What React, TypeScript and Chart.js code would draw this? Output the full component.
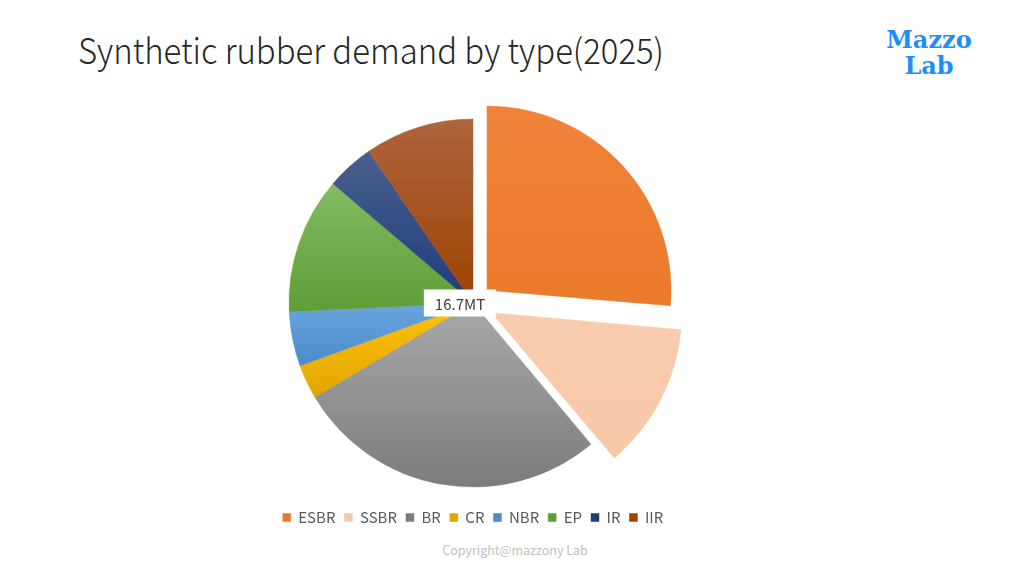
import React, { useEffect, useRef } from "react";
import { Chart, registerables } from "chart.js";

Chart.register(...registerables);

const categories = ["ESBR", "SSBR", "BR", "CR", "NBR", "EP", "IR", "IIR"];
const demandMT = [4.4, 2.1, 4.6, 0.5, 0.8, 2.0, 0.7, 1.6];
// Chart.js 4 draws an arc's offset at a quarter of its value
const explodeOffsets = [76, 84, 0, 0, 0, 0, 0, 0];
const topColors = ["#F0833A", "#F8CCAF", "#A9A9A9", "#FFC20A", "#6AA6DE", "#82BC62", "#4A5F8E", "#AE643E"];
const bottomColors = ["#EB7A2C", "#F7C8A8", "#7C7C7C", "#E2A500", "#4A8BCA", "#5E9E36", "#1F3B7A", "#9E4200"];
const centerLabel = "16.7MT";
const titleText = "Synthetic rubber demand by type(2025)";

const RADIUS = 184;

function sliceFill(ctx: any) {
  const chart = ctx.chart;
  const area = chart.chartArea;
  const i = ctx.dataIndex;
  if (!area || i === undefined) return bottomColors[i ?? 0];
  const total = demandMT.reduce((a, b) => a + b, 0);
  let before = 0;
  for (let k = 0; k < i; k++) before += demandMT[k];
  const a0 = (before / total) * Math.PI * 2;
  const a1 = ((before + demandMT[i]) / total) * Math.PI * 2;
  const cy = (area.top + area.bottom) / 2;
  const ys = [cy, cy - RADIUS * Math.cos(a0), cy - RADIUS * Math.cos(a1)];
  if (a0 <= 0.0001) ys.push(cy - RADIUS);
  if (a0 <= Math.PI && a1 >= Math.PI) ys.push(cy + RADIUS);
  const y0 = Math.min(...ys);
  const y1 = Math.max(...ys);
  const g = chart.ctx.createLinearGradient(0, y0, 0, Math.max(y1, y0 + 1));
  g.addColorStop(0, topColors[i]);
  g.addColorStop(1, bottomColors[i]);
  return g;
}

const centerLabelPlugin = {
  id: "centerLabel",
  afterDatasetsDraw(chart: any) {
    const arc = chart.getDatasetMeta(0).data[2];
    if (!arc) return;
    const c = chart.ctx;
    const cx = arc.x - 13;
    const cy = arc.y;
    c.save();
    c.font = "15px 'Noto Sans CJK JP', 'Noto Sans', sans-serif";
    const w = c.measureText(centerLabel).width + 22;
    const h = 27;
    c.fillStyle = "#FFFFFF";
    c.fillRect(cx - w / 2, cy - h / 2, w, h);
    c.fillStyle = "#404040";
    c.textAlign = "center";
    c.textBaseline = "middle";
    c.fillText(centerLabel, cx, cy + 1);
    c.restore();
  },
};

export default function App() {
  const ref = useRef<HTMLCanvasElement | null>(null);

  useEffect(() => {
    if (!ref.current) return;
    const chart = new Chart(ref.current, {
      type: "pie",
      data: {
        labels: categories,
        datasets: [
          {
            data: demandMT,
            backgroundColor: sliceFill as any,
            borderColor: sliceFill as any,
            borderWidth: 0.5,
            offset: explodeOffsets,
            hoverOffset: 0,
          } as any,
        ],
      },
      options: {
        responsive: false,
        animation: false,
        radius: RADIUS,
        layout: { padding: { top: 10, bottom: 0 } },
        plugins: {
          tooltip: { enabled: false },
          legend: {
            position: "bottom",
            labels: {
              boxWidth: 8,
              boxHeight: 8,
              padding: 9,
              color: "#595959",
              font: { size: 15, family: "'Noto Sans CJK JP', 'Noto Sans', sans-serif" },
            },
          },
        },
      } as any,
      plugins: [centerLabelPlugin],
    });
    return () => chart.destroy();
  }, []);

  return (
    <div
      style={{
        position: "fixed",
        left: 0,
        top: 0,
        width: 1024,
        height: 576,
        background: "#FFFFFF",
        overflow: "hidden",
      }}
    >
      <div
        style={{
          position: "absolute",
          left: 78,
          top: 24,
          fontFamily: "'Noto Sans CJK JP', 'Noto Sans', sans-serif",
          fontWeight: 300,
          fontSize: 35,
          color: "#262626",
          whiteSpace: "nowrap",
          lineHeight: "50px",
          transformOrigin: "left center",
          transform: "scaleX(0.94)",
        }}
      >
        {titleText}
      </div>
      <div
        style={{
          position: "absolute",
          left: 869,
          top: 27,
          width: 120,
          textAlign: "center",
          fontFamily: "'DejaVu Serif', serif",
          fontWeight: "bold",
          fontSize: 24,
          lineHeight: "26px",
          color: "#1E8EF5",
        }}
      >
        Mazzo
        <br />
        Lab
      </div>
      <canvas
        ref={ref}
        width={946}
        height={440}
        style={{ position: "absolute", left: 0, top: 95, width: 946, height: 440 }}
      />
      <div
        style={{
          position: "absolute",
          left: 415,
          top: 540,
          width: 200,
          textAlign: "center",
          fontFamily: "'Noto Sans CJK JP', 'Noto Sans', sans-serif",
          fontSize: 12.5,
          color: "#BFBFBF",
          lineHeight: "20px",
        }}
      >
        Copyright@mazzony Lab
      </div>
    </div>
  );
}
